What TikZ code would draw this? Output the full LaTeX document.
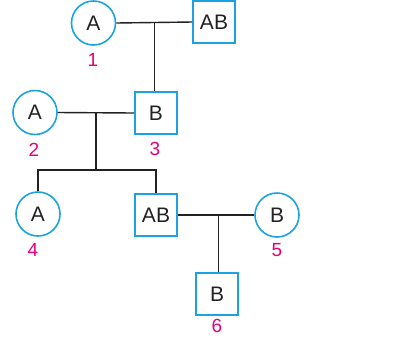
\documentclass[tikz,border=0pt]{standalone}
\usepackage{fontspec}
\setmainfont{Liberation Sans}
\usetikzlibrary{calc,positioning}
\definecolor{ink}{HTML}{222222}
\definecolor{outline}{HTML}{1AA3E0}
\definecolor{tag}{HTML}{E5007D}
\tikzset{line width=1.3pt,
  every node/.style={font=\fontsize{21}{23}\selectfont,text=ink},
  female/.style={circle,draw=outline,line width=1.6pt,minimum size=44pt,inner sep=0pt},
  male/.style={rectangle,draw=outline,line width=1.6pt,minimum size=42pt,inner sep=0pt},
  tagnum/.style={font=\fontsize{19}{21}\selectfont,text=tag},
  link/.style={draw=ink,line width=1.4pt}}
\begin{document}
\begin{tikzpicture}[x=1pt,y=-1pt]
\useasboundingbox (0,0) rectangle (406,341);
% first generation
\node[female] (f1) at (93.5,23) {A};
\node[male] (m1) at (214,22) {AB};
\node[tagnum] (t1) at (93,60) {1};
% second generation
\node[female] (f2) at (35,112.5) {A};
\node[male] (m3) at (156,113) {B};
\node[tagnum] (t2) at (34,150) {2};
\node[tagnum] (t3) at (155,149) {3};
% third generation
\node[female] (f4) at (38,214) {A};
\node[male] (m4) at (156,215) {AB};
\node[female] (f5) at (277,215) {B};
\node[tagnum] (t4) at (33,250) {4};
\node[tagnum] (t5) at (277,250) {5};
% fourth generation
\node[male] (m6) at (217,294) {B};
\node[tagnum] (t6) at (217,326) {6};
% couples and children
\coordinate (c1) at ($(f1.east)!.5!(m1.west)$);
\coordinate (c2) at ($(f2.east)!.5!(m3.west)$);
\coordinate (c3) at ($(m4.east)!.53!(f5.west)$);
\coordinate (sib) at (c2 |- 0,170);
\draw[link] (f1.east) -- (m1.west);
\draw[link] (c1) -- (c1 |- m3.north);
\draw[link] (f2.east) -- (m3.west);
\draw[link] (c2) -- (sib);
\draw[link] (f4.north) |- (sib) -| (m4.north);
\draw[link] (m4.east) -- (f5.west);
\draw[link] (c3) -- (c3 |- m6.north);
\end{tikzpicture}
\end{document}
